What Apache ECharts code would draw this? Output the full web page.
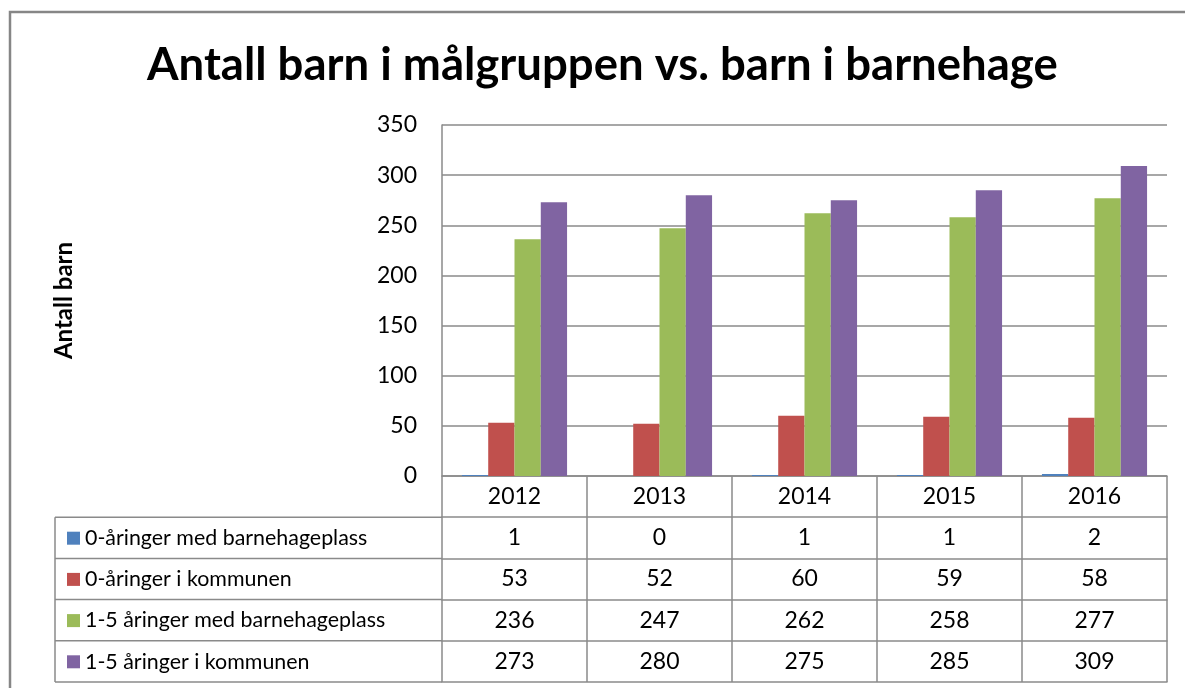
<!DOCTYPE html>
<html>
<head>
<meta charset="utf-8">
<script src="https://cdn.jsdelivr.net/npm/echarts@6/dist/echarts.min.js"></script>
<style>html,body{margin:0;padding:0;background:#fff}#c{width:1185px;height:688px}</style>
</head>
<body>
<div id="c"></div>
<script>
const title = 'Antall barn i målgruppen vs. barn i barnehage';
const yName = 'Antall barn';
const years = ['2012', '2013', '2014', '2015', '2016'];
const seriesNames = ['0-åringer med barnehageplass', '0-åringer i kommunen', '1-5 åringer med barnehageplass', '1-5 åringer i kommunen'];
const s0 = [1, 0, 1, 1, 2];
const s1 = [53, 52, 60, 59, 58];
const s2 = [236, 247, 262, 258, 277];
const s3 = [273, 280, 275, 285, 309];
const colors = ['#4F81BD', '#C0504D', '#9BBB59', '#8064A2'];
const yTicks = [0, 50, 100, 150, 200, 250, 300, 350];

const FONT = 'Lato';
const FS = 23;
const LINE = '#8a8a8a';
const G = {left: 442, right: 18, top: 125, bottom: 212};
const ROW = 41.2;
const TABLE_LEFT = 55;
const W = 1185, H = 688;
const zeroY = H - G.bottom;
const values = [s0, s1, s2, s3];

const xAxes = [{
  type: 'category', data: years, gridIndex: 0, position: 'bottom',
  axisLine: {show: true, lineStyle: {color: LINE, width: 1.5}},
  axisTick: {show: true, length: ROW, lineStyle: {color: LINE, width: 1.5}},
  axisLabel: {fontFamily: FONT, fontSize: FS, color: '#000', margin: 9},
  splitLine: {show: false}
}];
values.forEach((vals, k) => {
  xAxes.push({
    type: 'category', data: years, gridIndex: 0, position: 'bottom', offset: ROW * (k + 1),
    axisLine: {show: true, lineStyle: {color: LINE, width: 1.5}},
    axisTick: {show: true, length: ROW, lineStyle: {color: LINE, width: 1.5}},
    axisLabel: {fontFamily: FONT, fontSize: FS, color: '#000', margin: 9,
      formatter: (v, i) => String(vals[i])},
    splitLine: {show: false}
  });
});
xAxes.push({
  type: 'category', data: years, gridIndex: 0, position: 'bottom', offset: ROW * 5,
  axisLine: {show: true, lineStyle: {color: LINE, width: 1.5}},
  axisTick: {show: false}, axisLabel: {show: false}, splitLine: {show: false}
});

const graphics = [
  {type: 'rect', shape: {x: 10, y: 12, width: W + 20, height: H + 20}, style: {fill: 'none', stroke: '#868686', lineWidth: 2.5}, silent: true}
];
for (let k = 1; k <= 5; k++) {
  const y = zeroY + ROW * k;
  graphics.push({type: 'line', shape: {x1: TABLE_LEFT, y1: y, x2: G.left, y2: y}, style: {stroke: LINE, lineWidth: 1.5}, silent: true});
}
graphics.push({type: 'line', shape: {x1: TABLE_LEFT, y1: zeroY + ROW, x2: TABLE_LEFT, y2: zeroY + ROW * 5}, style: {stroke: LINE, lineWidth: 1.5}, silent: true});

const option = {
  animation: false,
  backgroundColor: '#fff',
  title: {text: title, left: 142, top: 37,
    textStyle: {fontFamily: FONT, fontSize: 45.5, fontWeight: 'bold', color: '#000'}},
  legend: {
    data: seriesNames, orient: 'vertical', left: 62, top: zeroY + ROW + 4,
    itemWidth: 13, itemHeight: 13, itemGap: ROW - 24, icon: 'rect',
    textStyle: {fontFamily: FONT, fontSize: 21.4, color: '#000', lineHeight: 24},
    selectedMode: false
  },
  grid: {left: G.left, right: G.right, top: G.top, bottom: G.bottom, containLabel: false},
  xAxis: xAxes,
  yAxis: {
    type: 'value', min: yTicks[0], max: yTicks[yTicks.length - 1], interval: 50,
    name: yName, nameLocation: 'middle', nameGap: 366, nameRotate: 90,
    nameTextStyle: {fontFamily: FONT, fontSize: 24, fontWeight: 'bold', color: '#000'},
    axisLine: {show: true, lineStyle: {color: LINE, width: 1.5}},
    axisTick: {show: false},
    axisLabel: {fontFamily: FONT, fontSize: FS, color: '#000', margin: 25},
    splitLine: {show: true, lineStyle: {color: LINE, width: 1.5}}
  },
  series: seriesNames.map((n, i) => ({
    name: n, type: 'bar', xAxisIndex: 0, data: values[i],
    itemStyle: {color: colors[i]}, barGap: '0%', barCategoryGap: '27.5%'
  })),
  graphic: graphics
};
const chart = echarts.init(document.getElementById('c'), null, {renderer: 'canvas'});
chart.setOption(option);
</script>
</body>
</html>
